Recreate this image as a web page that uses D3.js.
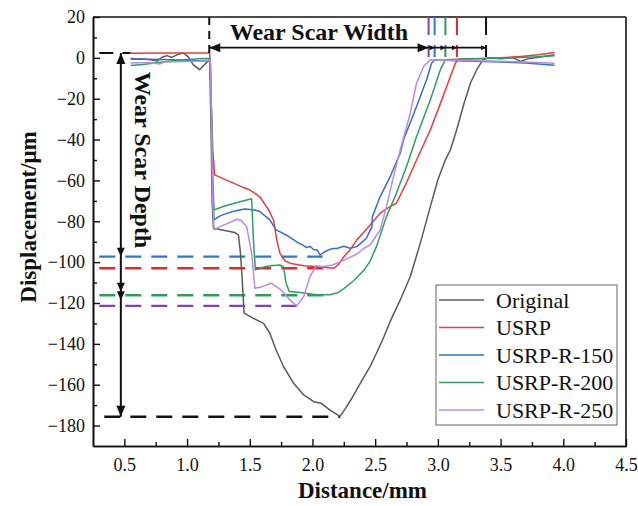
<!DOCTYPE html>
<html>
<head>
<meta charset="utf-8">
<script src="https://cdn.jsdelivr.net/npm/d3@7"></script>
<style>
body { margin: 0; background: #fff; }
svg { display: block; }
svg text { font-family: "Liberation Serif", "Times New Roman", serif !important; fill: #111; }
</style>
</head>
<body>
<div id="chart"></div>
<script>
// tick values
const xTicks = [0.5, 1.0, 1.5, 2.0, 2.5, 3.0, 3.5, 4.0, 4.5];
const xMinor = [0.75, 1.25, 1.75, 2.25, 2.75, 3.25, 3.75, 4.25];
const yTicks = [20, 0, -20, -40, -60, -80, -100, -120, -140, -160, -180];
const yMinor = [10, -10, -30, -50, -70, -90, -110, -130, -150, -170];

const seriesNames = ["Original", "USRP", "USRP-R-150", "USRP-R-200", "USRP-R-250"];

// [distance mm, displacement um]
const originalData = [
    [0.55,-0.3],[0.62,-0.5],[0.70,-0.8],[0.76,-1.6],[0.80,0.3],[0.84,1.1],[0.88,0.2],[0.93,1.8],
    [0.97,2.4],[1.01,0.5],[1.05,-3.4],[1.10,-5.8],[1.15,-2.6],[1.18,-0.8],[1.19,-30],[1.20,-70],
    [1.21,-83.4],[1.30,-84.5],[1.38,-85.5],[1.41,-86.7],[1.425,-95],[1.44,-108.7],[1.455,-125],
    [1.53,-127.5],[1.61,-130],[1.66,-134.8],[1.71,-143],[1.77,-151.2],[1.85,-159.3],[1.93,-165],
    [2.01,-168.3],[2.07,-169.1],[2.14,-172.4],[2.22,-175.5],[2.27,-171],[2.31,-167],[2.38,-159.5],
    [2.46,-151],[2.51,-144.6],[2.57,-136.5],[2.62,-129],[2.70,-118.5],[2.78,-107],[2.86,-90.7],
    [2.94,-72.8],[3.00,-59.7],[3.06,-49.9],[3.10,-45],[3.15,-35.2],[3.21,-22],[3.26,-12.3],
    [3.31,-5.8],[3.36,-0.9],[3.40,0],[3.50,-0.4],[3.60,0],[3.66,-1.7],[3.72,-0.5],[3.80,0.3],[3.93,1.5]
];
const usrpData = [
    [0.55,2.3],[0.80,2.4],[1.00,2.4],[1.18,2.4],[1.19,-15],[1.205,-45],[1.22,-57.3],[1.30,-59.5],
    [1.37,-61.3],[1.45,-63.5],[1.50,-64.6],[1.58,-68],[1.65,-74.4],[1.69,-79.5],[1.715,-89],
    [1.74,-95.6],[1.78,-99.3],[1.82,-100.5],[1.93,-101.8],[2.05,-102.2],[2.17,-103],[2.21,-101],
    [2.25,-97.3],[2.30,-94],[2.354,-89.1],[2.40,-86],[2.46,-81.8],[2.54,-76],[2.60,-73.6],
    [2.67,-71.1],[2.75,-61],[2.83,-50],[2.94,-35.2],[3.01,-24],[3.07,-14],[3.14,-2.5],[3.17,-0.6],
    [3.30,-0.4],[3.50,0],[3.66,0.7],[3.80,1.5],[3.93,2.6]
];
const r150Data = [
    [0.55,-0.5],[0.80,-0.8],[1.00,-1.2],[1.15,-1.7],[1.185,-1.5],[1.195,-30],[1.205,-65],
    [1.215,-79.3],[1.26,-77.5],[1.30,-76.5],[1.38,-75],[1.46,-74],[1.54,-74.5],[1.58,-75.2],
    [1.66,-79.3],[1.71,-84.2],[1.79,-86.7],[1.89,-90.7],[1.92,-91.5],[1.95,-92.8],[1.98,-92.3],
    [2.01,-93.8],[2.04,-94.2],[2.06,-96.5],[2.10,-94.8],[2.15,-93.5],[2.20,-93.2],[2.25,-92.2],
    [2.30,-93.2],[2.354,-92.4],[2.43,-88.3],[2.474,-82.6],[2.478,-77.7],[2.54,-67.9],[2.62,-58.1],
    [2.70,-46.6],[2.726,-40.1],[2.83,-23.8],[2.91,-10.7],[2.95,-2.5],[2.98,-0.9],[3.20,-1.5],
    [3.50,-2],[3.70,-2.5],[3.93,-3.6]
];
const r200Data = [
    [0.55,-3.8],[0.65,-3.2],[0.80,-2],[0.95,-1],[1.10,-0.4],[1.185,-0.3],[1.195,-30],[1.205,-60],
    [1.215,-74.4],[1.30,-72.5],[1.40,-70.8],[1.50,-69.2],[1.515,-69],[1.53,-90],[1.545,-103.8],
    [1.60,-102.6],[1.66,-101.8],[1.74,-101.4],[1.77,-102.5],[1.79,-110.3],[1.815,-114.4],
    [1.90,-114.9],[2.03,-116],[2.14,-116],[2.20,-115],[2.25,-113],[2.33,-109],[2.41,-104],
    [2.46,-99.5],[2.51,-92.4],[2.59,-77.7],[2.67,-66.2],[2.71,-59.7],[2.75,-53.2],[2.83,-38.5],
    [2.94,-20.5],[3.02,-5.8],[3.06,-0.9],[3.20,-0.5],[3.40,-0.3],[3.60,0],[3.80,0.6],[3.93,1]
];
const r250Data = [
    [0.55,-2.5],[0.70,-2.3],[0.78,-3],[0.82,-2],[1.00,-1.8],[1.15,-1.5],[1.185,-1],[1.195,-30],
    [1.205,-70],[1.215,-84.2],[1.25,-83],[1.40,-79],[1.43,-79.5],[1.475,-82.6],[1.515,-95.6],
    [1.541,-112.8],[1.60,-112],[1.67,-110.3],[1.75,-113.6],[1.82,-118.5],[1.874,-121.4],
    [1.93,-116.9],[1.98,-107.1],[2.03,-101.8],[2.08,-102.2],[2.16,-101.4],[2.27,-98.5],
    [2.354,-96],[2.41,-93.2],[2.46,-91.6],[2.54,-84.2],[2.59,-72.8],[2.646,-58.1],[2.70,-45],
    [2.78,-27],[2.83,-12.3],[2.886,-4.2],[2.94,-0.9],[3.10,-1.2],[3.40,-1.5],[3.70,-2],[3.93,-2.6]
];
const seriesData = [originalData, usrpData, r150Data, r200Data, r250Data];
const seriesColors = ["#5a5a5a", "#ee3a3a", "#2f6fd0", "#2aa060", "#bb8ae6"];

// annotation values
const scarLeft = 1.177;
const scarTopLevel = 2.4;
const widthArrowLevel = 5;
const scarEdges = [2.926, 2.974, 3.06, 3.152, 3.384];
const scarEdgeColors = ["#7b44b8", "#2a7bc8", "#2a9d55", "#e8262a", "#111"];
const depthLevels = [-97.3, -103, -116.2, -121.4, -175.7];
const depthEnds = [2.08, 2.167, 2.14, 1.874, 2.22];
const depthStarts = [0.30, 0.30, 0.30, 0.30, 0.34];
const depthColors = ["#2a7bc8", "#e8262a", "#2a9d55", "#7b44b8", "#111"];
const depthArrowX = 0.472;
const depthArrowMarks = [-97.3, -114.5, -118.6];

var SERIF = '"Liberation Serif", "Times New Roman", serif';

var margin = {top: 17, right: 12, bottom: 60, left: 93};
var width = 638 - margin.left - margin.right;
var height = 506 - margin.top - margin.bottom;

var svg = d3.select("#chart").append("svg")
    .attr("width", 638)
    .attr("height", 506);

var g = svg.append("g").attr("transform", "translate(" + margin.left + "," + margin.top + ")");

var x = d3.scaleLinear().domain([0.25, 4.5]).range([0, width]);
var y = d3.scaleLinear().domain([-190, 20]).range([height, 0]);

// axes, ticks pointing inward
g.append("g").attr("transform", "translate(0," + height + ")")
    .call(d3.axisBottom(x).tickValues(xTicks).tickFormat(d3.format(".1f")).tickSizeInner(-7).tickSizeOuter(0).tickPadding(12));
g.append("g").attr("transform", "translate(0," + height + ")")
    .call(d3.axisBottom(x).tickValues(xMinor).tickFormat("").tickSizeInner(-4).tickSizeOuter(0));
g.append("g")
    .call(d3.axisLeft(y).tickValues(yTicks).tickFormat(function(d) { return d < 0 ? "\u2212" + Math.abs(d) : d; }).tickSizeInner(-7).tickSizeOuter(0).tickPadding(8));
g.append("g")
    .call(d3.axisLeft(y).tickValues(yMinor).tickFormat("").tickSizeInner(-4).tickSizeOuter(0));

g.selectAll(".domain").attr("stroke", "#111").attr("stroke-width", 1.6);
g.selectAll(".tick line").attr("stroke", "#111").attr("stroke-width", 1.4);
g.selectAll("g").attr("font-family", SERIF);
g.selectAll(".tick text").style("font-size", "18px").style("font-family", SERIF).attr("fill", "#222");

// frame top and right
g.append("line").attr("x1", 0).attr("x2", width).attr("y1", 0).attr("y2", 0).attr("stroke", "#111").attr("stroke-width", 1.6);
g.append("line").attr("x1", width).attr("x2", width).attr("y1", 0).attr("y2", height).attr("stroke", "#111").attr("stroke-width", 1.6);

// dashed depth levels
for (var i = 0; i < depthLevels.length; i++) {
    g.append("line")
        .attr("x1", x(depthStarts[i])).attr("x2", x(depthEnds[i]))
        .attr("y1", y(depthLevels[i])).attr("y2", y(depthLevels[i]))
        .attr("stroke", depthColors[i]).attr("stroke-width", 2.4)
        .attr("stroke-dasharray", "16,10");
}
g.append("line")
    .attr("x1", x(0.30)).attr("x2", x(0.55))
    .attr("y1", y(scarTopLevel)).attr("y2", y(scarTopLevel))
    .attr("stroke", "#111").attr("stroke-width", 2).attr("stroke-dasharray", "14,9");

// curves
var line = d3.line().x(function(d) { return x(d[0]); }).y(function(d) { return y(d[1]); });
g.selectAll(".curve")
    .data(seriesData)
    .enter().append("path")
    .attr("class", "curve")
    .attr("d", line)
    .attr("fill", "none")
    .attr("stroke", function(d, i) { return seriesColors[i]; })
    .attr("stroke-width", 1.5)
    .attr("stroke-linejoin", "round");

function arrowHead(px, py, dir, len, half) {
    // dir: "left" "right" "up" "down"
    var pts;
    if (dir == "right") pts = [[px, py], [px - len, py - half], [px - len, py + half]];
    else if (dir == "left") pts = [[px, py], [px + len, py - half], [px + len, py + half]];
    else if (dir == "up") pts = [[px, py], [px - half, py + len], [px + half, py + len]];
    else pts = [[px, py], [px - half, py - len], [px + half, py - len]];
    g.append("path").attr("d", "M" + pts.join("L") + "Z").attr("fill", "#111");
}

// wear scar width
g.append("line")
    .attr("x1", x(scarLeft)).attr("x2", x(scarLeft))
    .attr("y1", y(20)).attr("y2", y(scarTopLevel))
    .attr("stroke", "#111").attr("stroke-width", 2).attr("stroke-dasharray", "8,6");
for (var i = 0; i < scarEdges.length; i++) {
    g.append("line")
        .attr("x1", x(scarEdges[i])).attr("x2", x(scarEdges[i]))
        .attr("y1", y(20)).attr("y2", y(scarTopLevel - 2))
        .attr("stroke", scarEdgeColors[i]).attr("stroke-width", 2)
        .attr("stroke-dasharray", "18,10");
}
g.append("line")
    .attr("x1", x(scarLeft)).attr("x2", x(scarEdges[scarEdges.length - 1]))
    .attr("y1", y(widthArrowLevel)).attr("y2", y(widthArrowLevel))
    .attr("stroke", "#111").attr("stroke-width", 1.6);
arrowHead(x(scarLeft), y(widthArrowLevel), "left", 11, 4.5);
arrowHead(x(scarEdges[0]), y(widthArrowLevel), "right", 11, 4.5);
for (var i = 1; i < scarEdges.length; i++) {
    arrowHead(x(scarEdges[i]), y(widthArrowLevel), "right", 5, 2.5);
}
g.append("text")
    .attr("x", (x(scarLeft) + x(scarEdges[0])) / 2)
    .attr("y", y(widthArrowLevel) - 8)
    .attr("text-anchor", "middle")
    .style("font-family", SERIF)
    .style("font-size", "24px").style("font-weight", "bold")
    .text("Wear Scar Width");

// wear scar depth
g.append("line")
    .attr("x1", x(depthArrowX)).attr("x2", x(depthArrowX))
    .attr("y1", y(scarTopLevel)).attr("y2", y(depthLevels[depthLevels.length - 1]))
    .attr("stroke", "#111").attr("stroke-width", 2);
arrowHead(x(depthArrowX), y(scarTopLevel), "up", 11, 4.5);
arrowHead(x(depthArrowX), y(depthLevels[depthLevels.length - 1]), "down", 11, 4.5);
depthArrowMarks.forEach(function(v) {
    arrowHead(x(depthArrowX), y(v), "down", 9, 4);
});
g.append("text")
    .attr("transform", "translate(" + (x(depthArrowX) + 14) + "," + (y(-50)) + ") rotate(90)")
    .attr("text-anchor", "middle")
    .style("font-family", SERIF)
    .style("font-size", "24px").style("font-weight", "bold")
    .text("Wear Scar Depth");

// legend
var legend = g.append("g").attr("transform", "translate(" + (436 - margin.left) + "," + (285 - margin.top) + ")");
legend.append("rect").attr("width", 181).attr("height", 140)
    .attr("fill", "#fff").attr("stroke", "#666").attr("stroke-width", 1);
seriesNames.forEach(function(name, i) {
    var ly = 15 + i * 27.5;
    legend.append("line").attr("x1", 3).attr("x2", 48).attr("y1", ly).attr("y2", ly)
        .attr("stroke", seriesColors[i]).attr("stroke-width", 1.6);
    legend.append("text").attr("x", 60).attr("y", ly).attr("dy", "0.35em")
        .style("font-family", SERIF)
        .style("font-size", "22px").text(name);
});

// axis titles
svg.append("text")
    .attr("x", margin.left + width / 2 + 3)
    .attr("y", 498)
    .attr("text-anchor", "middle")
    .style("font-family", SERIF)
    .style("font-size", "23px").style("font-weight", "bold")
    .text("Distance/mm");
svg.append("text")
    .attr("transform", "translate(36,217) rotate(-90)")
    .attr("text-anchor", "middle")
    .style("font-family", SERIF)
    .style("font-size", "23px").style("font-weight", "bold")
    .text("Displacement/\u03bcm");
</script>
</body>
</html>
